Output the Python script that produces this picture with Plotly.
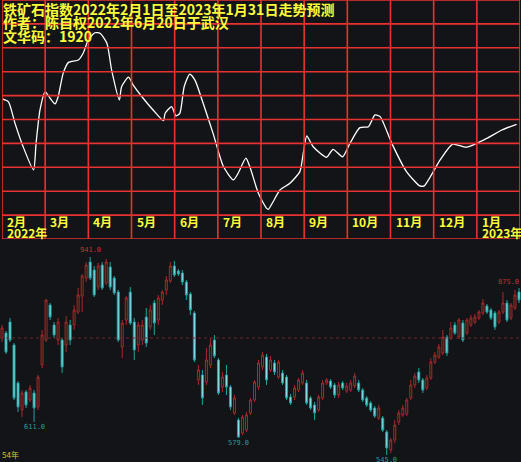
import plotly.graph_objects as go

# ---------------- top panel: forecast line ----------------
month_labels = ["2月", "3月", "4月", "5月", "6月", "7月", "8月", "9月", "10月", "11月", "12月", "1月"]
year_labels = ["2022年", "2023年"]
title_lines = ["铁矿石指数2022年2月1日至2023年1月31日走势预测",
               "作者：陈自权2022年6月20日于武汉",
               "文华码：1920"]

# x in months since 1 Feb 2022, y in grid units
fc_x = [0.02, 0.15, 0.30, 0.49, 0.73, 0.79, 0.88, 1.00, 1.11, 1.23, 1.30, 1.42, 1.54, 1.77,
        1.88, 2.00, 2.15, 2.27, 2.43, 2.54, 2.72, 2.77, 2.93, 3.04, 3.27, 3.50, 3.74, 3.78,
        3.93, 4.03, 4.12, 4.22, 4.35, 4.47, 4.66, 4.89, 5.13, 5.36, 5.47, 5.65, 5.74, 5.94,
        6.13, 6.17, 6.28, 6.44, 6.67, 6.90, 6.98, 7.06, 7.21, 7.52, 7.67, 7.89, 8.06, 8.29,
        8.49, 8.64, 8.76, 9.03, 9.37, 9.68, 9.78, 10.15, 10.44, 10.76, 11.23, 11.58, 11.92]
fc_y = [5.85, 5.74, 4.85, 3.86, 2.89, 4.02, 5.40, 6.16, 5.90, 5.65, 5.95, 6.95, 7.39, 7.49,
        7.77, 8.33, 8.63, 8.61, 8.19, 7.07, 5.82, 6.37, 6.77, 6.44, 5.89, 5.40, 4.95, 5.26,
        5.54, 5.15, 5.26, 6.37, 6.90, 6.65, 5.68, 4.42, 3.03, 2.47, 2.75, 3.38, 3.03, 1.91,
        1.28, 1.24, 1.56, 2.05, 2.33, 2.82, 3.59, 4.31, 3.86, 3.42, 3.75, 3.44, 4.00, 4.66,
        4.70, 5.19, 5.12, 4.00, 2.82, 2.22, 2.22, 3.31, 3.97, 3.84, 4.21, 4.56, 4.80]

# ---------------- bottom panel: daily candles ----------------
k_open = [779, 789, 811, 765, 689, 635, 671, 655, 669, 641, 725, 775, 845, 805, 775, 775, 765, 805,
          805, 831, 863, 899, 931, 915, 881, 925, 889, 921, 899, 871, 761, 815, 871, 811, 765, 775,
          821, 801, 849, 815, 855, 875, 893, 923, 913, 909, 891, 867, 829, 695, 705, 691, 725, 775,
          735, 681, 705, 681, 629, 615, 589, 595, 629, 655, 681, 721, 741, 715, 729, 701, 709, 701,
          661, 661, 675, 689, 689, 659, 645, 635, 659, 689, 693, 685, 665, 689, 673, 675, 683, 689,
          675, 659, 649, 639, 619, 619, 591, 555, 575, 611, 625, 627, 659, 685, 711, 695, 679, 699,
          731, 741, 749, 781, 779, 805, 781, 809, 789, 805, 811, 819, 829, 843, 835, 829, 811, 831,
          849, 819, 839, 871]
k_close = [799, 751, 775, 659, 641, 669, 645, 679, 639, 701, 785, 855, 821, 785, 811, 721, 811, 775,
           835, 865, 903, 925, 899, 865, 923, 879, 931, 881, 869, 775, 809, 859, 809, 755, 805, 805,
           769, 835, 809, 859, 871, 895, 923, 905, 907, 891, 865, 835, 735, 715, 659, 735, 765, 743,
           669, 701, 681, 641, 659, 581, 621, 625, 655, 691, 729, 745, 695, 735, 711, 731, 689, 659,
           649, 679, 695, 709, 649, 639, 629, 661, 689, 695, 681, 665, 685, 679, 683, 689, 703, 675,
           655, 645, 635, 623, 639, 595, 559, 575, 605, 629, 639, 655, 685, 703, 695, 675, 699, 731,
           745, 761, 781, 749, 799, 789, 815, 775, 815, 819, 821, 831, 849, 831, 819, 801, 831, 849,
           815, 845, 865, 855]
k_high = [805, 793, 819, 769, 693, 675, 675, 685, 675, 705, 795, 857, 849, 811, 819, 779, 823, 815,
          845, 879, 907, 931, 941, 923, 929, 931, 937, 931, 903, 875, 815, 863, 881, 819, 811, 815,
          839, 845, 855, 865, 875, 903, 931, 933, 917, 915, 895, 871, 833, 725, 715, 759, 779, 785,
          739, 711, 725, 685, 665, 619, 625, 631, 659, 695, 735, 751, 747, 743, 735, 735, 715, 705,
          667, 685, 699, 715, 695, 663, 651, 665, 695, 699, 697, 689, 691, 693, 689, 695, 709, 695,
          679, 663, 653, 643, 645, 623, 595, 579, 615, 635, 645, 659, 695, 709, 719, 699, 705, 739,
          751, 767, 795, 785, 811, 811, 819, 815, 819, 825, 827, 835, 857, 847, 839, 833, 835, 871,
          855, 849, 875, 879]
k_low = [771, 747, 771, 655, 631, 621, 639, 651, 611, 635, 719, 771, 815, 779, 765, 709, 751, 765,
         795, 827, 831, 891, 895, 861, 875, 875, 885, 875, 865, 771, 739, 805, 805, 735, 751, 765,
         761, 795, 785, 805, 845, 865, 889, 901, 903, 885, 855, 825, 731, 685, 645, 685, 719, 739,
         665, 671, 665, 635, 625, 579, 585, 591, 625, 651, 675, 715, 685, 711, 705, 697, 685, 655,
         645, 655, 671, 685, 645, 635, 615, 631, 655, 685, 677, 659, 659, 675, 669, 671, 679, 671,
         651, 641, 631, 619, 615, 591, 545, 549, 569, 605, 621, 623, 655, 679, 689, 669, 675, 695,
         727, 737, 745, 743, 775, 785, 777, 771, 785, 801, 807, 815, 825, 827, 815, 795, 807, 827,
         811, 815, 835, 849]
low_mark_idx = [8, 59, 96]
ref_level = 779

BG = "#131417"
RED = "#e83232"
YEL = "#ffff3a"

fig = go.Figure()
W, H = 521, 462
top_dom = [1 - 239 / H, 1.0]
bot_dom = [0.0, (H - 240) / H]

fig.add_trace(go.Scatter(x=fc_x, y=fc_y, mode="lines", xaxis="x", yaxis="y",
                         line=dict(color="white", width=1.3, shape="spline", smoothing=0.6),
                         hoverinfo="skip", showlegend=False))

n = len(k_open)
idx = list(range(n))
fig.add_trace(go.Candlestick(x=idx, open=k_open, high=k_high, low=k_low, close=k_close,
                             xaxis="x2", yaxis="y2", showlegend=False, whiskerwidth=0,
                             increasing=dict(line=dict(color="#a82a2a", width=1), fillcolor=BG),
                             decreasing=dict(line=dict(color="#1fa3a3", width=1), fillcolor="#8fe3e3")))

shapes = []
# grid of top panel
for i in range(13):
    shapes.append(dict(type="line", xref="x", yref="paper", x0=i, x1=i, y0=top_dom[0], y1=1,
                       line=dict(color=RED, width=1.6)))
for j in range(11):
    shapes.append(dict(type="line", xref="paper", yref="y", x0=2 / W, x1=520 / W, y0=j, y1=j,
                       line=dict(color=RED, width=1.6)))
# reference dotted line in bottom panel
shapes.append(dict(type="line", xref="x2 domain", yref="y2", x0=0, x1=1, y0=ref_level, y1=ref_level,
                   line=dict(color="#6e2626", width=1, dash="dot")))

ann = []
fy = [1 - 9 / H, 1 - 22.5 / H, 1 - 36 / H]
fs = [14, 14, 14]
for t, yy, s in zip(title_lines, fy, fs):
    ann.append(dict(text="<b>" + t + "</b>", xref="paper", yref="paper", x=1 / W, y=yy,
                    xanchor="left", yanchor="middle", showarrow=False,
                    font=dict(color=YEL, size=s, family="Noto Sans CJK SC")))
for i, m in enumerate(month_labels):
    ann.append(dict(text="<b>" + m + "</b>", xref="x", yref="y", x=i, y=0.73, xshift=3,
                    xanchor="left", yanchor="middle", showarrow=False,
                    font=dict(color=YEL, size=12, family="Noto Sans CJK SC")))
for i, t in zip([0, 11], year_labels):
    ann.append(dict(text="<b>" + t + "</b>", xref="x", yref="y", x=i, y=0.26, xshift=3,
                    xanchor="left", yanchor="middle", showarrow=False,
                    font=dict(color=YEL, size=12, family="Noto Sans CJK SC")))

# high / low markers on candles
hi_i = max(idx, key=lambda k: k_high[k])
ann.append(dict(text=f"{k_high[hi_i]:.1f}", xref="x2", yref="y2", x=hi_i, y=k_high[hi_i], yshift=7,
                showarrow=False, font=dict(color="#c03434", size=7, family="DejaVu Sans Mono")))
for k in low_mark_idx:
    ann.append(dict(text=f"{k_low[k]:.1f}", xref="x2", yref="y2", x=k, y=k_low[k], yshift=-5,
                    showarrow=False, font=dict(color="#2a9e9e", size=7, family="DejaVu Sans Mono")))
ann.append(dict(text=f"{k_high[n - 2]:.1f}", xref="x2", yref="y2", x=n - 2, y=k_high[n - 2], yshift=8,
                showarrow=False, xanchor="right", xshift=6,
                font=dict(color="#c03434", size=7, family="DejaVu Sans Mono")))
ann.append(dict(text="54年", xref="paper", yref="paper", x=0, y=0, xanchor="left", yanchor="bottom",
                showarrow=False, font=dict(color="#c8c832", size=8, family="Noto Sans CJK SC")))

fig.update_layout(
    width=W, height=H, margin=dict(l=0, r=0, t=0, b=0),
    paper_bgcolor=BG, plot_bgcolor=BG,
    xaxis=dict(domain=[2 / W, 520 / W], range=[0, 12], visible=False, fixedrange=True),
    yaxis=dict(domain=top_dom, range=[0, 239 / 23.9], visible=False, fixedrange=True),
    xaxis2=dict(domain=[0, 1], range=[-0.5, n - 0.5], visible=False, rangeslider=dict(visible=False),
                anchor="y2"),
    yaxis2=dict(domain=bot_dom, range=[1455 - 2 * 462, 1455 - 2 * 240], visible=False, anchor="x2"),
    shapes=shapes, annotations=ann, showlegend=False,
)

fig.write_html("out.html", config={"displayModeBar": False},
               post_script="document.body.style.margin='0';document.body.style.background='#131417';")
